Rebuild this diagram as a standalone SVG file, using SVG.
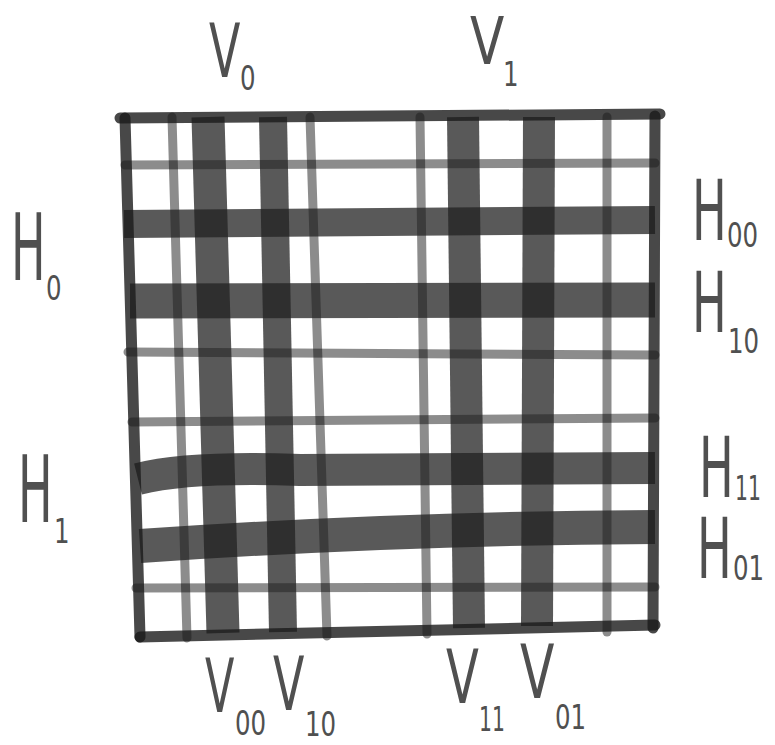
<svg xmlns="http://www.w3.org/2000/svg" width="775" height="745" viewBox="0 0 775 745">
<style>
.band{fill:none;stroke:#222;stroke-opacity:0.75;stroke-linecap:butt}
.thin{fill:none;stroke:#000;stroke-opacity:0.45;stroke-width:9;stroke-linecap:round}
.frame{fill:none;stroke:#1a1a1a;stroke-opacity:0.8;stroke-width:11;stroke-linecap:round;stroke-linejoin:round}
text{font-family:"DejaVu Sans","Liberation Sans",sans-serif;fill:#505050}
.v{font-size:74px}
.v1{font-size:66px}
.h{font-size:92px}
.hr{font-size:84px}
.s{font-size:34px}
</style>
<rect width="775" height="745" fill="#fff"/>
<g id="thin-lines">
<path class="thin" d="M125,165 L655,163"/>
<path class="thin" d="M128,352 L655,355"/>
<path class="thin" d="M132,422 L655,418"/>
<path class="thin" d="M136,588 L655,587"/>
<path class="thin" d="M172,117 L187,638"/>
<path class="thin" d="M310,117 L327,636"/>
<path class="thin" d="M420,117 L427,634"/>
<path class="thin" d="M607,117 L607,632"/>
</g>
<g id="bands">
<path class="band" stroke-width="28" d="M124,224 L655,220"/>
<path class="band" stroke-width="35" d="M130,301 L655,300"/>
<path class="band" stroke-width="32" d="M138,479 Q190,466 300,470 L655,468"/>
<path class="band" stroke-width="34" d="M140,546 Q400,528 655,527"/>
<path class="band" stroke-width="33" d="M208,117 L223,633"/>
<path class="band" stroke-width="28" d="M273,117 L283,632"/>
<path class="band" stroke-width="32" d="M463,117 L469,628"/>
<path class="band" stroke-width="32" d="M539,117 L537,626"/>
</g>
<g id="frame">
<path class="frame" d="M120,118 L660,114"/>
<path class="frame" d="M655,116 L653,628"/>
<path class="frame" d="M140,637 L655,625"/>
<path class="frame" d="M125,118 L140,637"/>
</g>
<g id="labels">
<text class="v" transform="translate(209,77) scale(0.62,1)">V</text>
<text class="s" transform="translate(240,90) scale(0.72,1)">0</text>
<text class="v1" transform="translate(470,64) scale(0.76,1)">V</text>
<text class="s" transform="translate(503,86) scale(0.72,1)">1</text>
<text class="h" transform="translate(11,280) scale(0.5,1)">H</text>
<text class="s" transform="translate(46,300) scale(0.72,1)">0</text>
<text class="h" transform="translate(18,522) scale(0.5,1)">H</text>
<text class="s" transform="translate(54,543) scale(0.72,1)">1</text>
<text class="hr" transform="translate(692,240) scale(0.55,1)">H</text>
<text class="s" transform="translate(727,247) scale(0.72,1)">00</text>
<text class="hr" transform="translate(692,332) scale(0.55,1)">H</text>
<text class="s" transform="translate(728,353) scale(0.72,1)">10</text>
<text class="hr" transform="translate(699,497) scale(0.55,1)">H</text>
<text class="s" transform="translate(735,500) scale(0.6,1)">11</text>
<text class="hr" transform="translate(697,578) scale(0.55,1)">H</text>
<text class="s" transform="translate(733,580) scale(0.72,1)">01</text>
<text class="v" transform="translate(205,712) scale(0.58,1)">V</text>
<text class="s" transform="translate(235,735) scale(0.72,1)">00</text>
<text class="v" transform="translate(273,710) scale(0.62,1)">V</text>
<text class="s" transform="translate(305,736) scale(0.72,1)">10</text>
<text class="v" transform="translate(446,703) scale(0.65,1)">V</text>
<text class="s" transform="translate(479,731) scale(0.6,1)">11</text>
<text class="v" transform="translate(520,698) scale(0.68,1)">V</text>
<text class="s" transform="translate(555,729) scale(0.72,1)">01</text>
</g>
</svg>
